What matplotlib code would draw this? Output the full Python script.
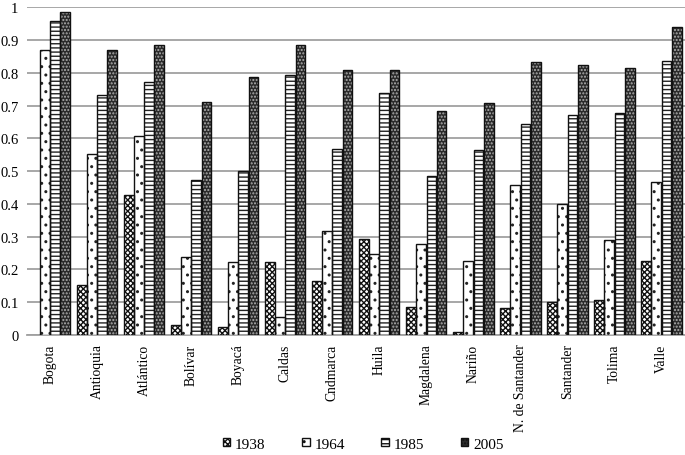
import numpy as np
import matplotlib
matplotlib.use("Agg")
import matplotlib.pyplot as plt
from matplotlib.patches import Patch

categories = ["Bogota", "Antioquia", "Atlántico", "Bolívar", "Boyacá", "Caldas", "Cndmarca",
              "Huila", "Magdalena", "Nariño", "N. de Santander", "Santander", "Tolima", "Valle"]
v1938 = [np.nan, 0.152, 0.427, 0.030, 0.026, 0.224, 0.164, 0.294, 0.087, 0.009, 0.084, 0.100, 0.106, 0.226]
v1964 = [0.868, 0.553, 0.608, 0.237, 0.222, 0.055, 0.317, 0.248, 0.277, 0.225, 0.457, 0.399, 0.289, 0.468]
v1985 = [0.958, 0.731, 0.772, 0.474, 0.500, 0.792, 0.567, 0.738, 0.486, 0.565, 0.643, 0.672, 0.676, 0.835]
v2005 = [0.985, 0.868, 0.886, 0.710, 0.786, 0.886, 0.810, 0.808, 0.683, 0.708, 0.833, 0.825, 0.815, 0.940]
series_labels = ["1938", "1964", "1985", "2005"]
yticks = [0, 0.1, 0.2, 0.3, 0.4, 0.5, 0.6, 0.7, 0.8, 0.9, 1]
ytick_labels = ["0", "0.1", "0.2", "0.3", "0.4", "0.5", "0.6", "0.7", "0.8", "0.9", "1"]

plt.rcParams['font.family'] = ['Liberation Serif', 'DejaVu Serif']
plt.rcParams['hatch.linewidth'] = 1.0

styles = [
    dict(face="white", hatch="xxxxxx", hcol="#111111"),
    dict(face="white", hatch="..", hcol="#222222"),
    dict(face="white", hatch="----", hcol="#222222"),
    dict(face="#2a2a2a", hatch=".....", hcol="#b0b0b0"),
]

fig = plt.figure(figsize=(6.85, 4.56), dpi=100)
ax = fig.add_axes([0.039, 0.263, 0.961, 0.719])

x = np.arange(len(categories))
w = 0.21
data = [v1938, v1964, v1985, v2005]
for i, (vals, st) in enumerate(zip(data, styles)):
    pos = x + (i - 1.5) * 0.215
    ax.bar(pos, vals, width=w, color=st["face"], hatch=st["hatch"],
           edgecolor=st["hcol"], linewidth=0, zorder=3)
    ax.bar(pos, vals, width=w, facecolor="none", edgecolor="#111111",
           linewidth=1.0, zorder=4)

ax.set_xlim(-0.5, len(categories) - 0.5)
ax.set_ylim(0, 1)
ax.set_yticks(yticks)
ax.set_yticklabels(ytick_labels, fontsize=10.5)
ax.set_xticks(x)
ax.set_xticklabels(categories, rotation=90, fontsize=9.8)
ax.tick_params(axis='both', length=0, pad=6)
ax.tick_params(axis='x', pad=6)
ax.yaxis.grid(True, color="#a0a0a0", linewidth=1.3, zorder=0)
ax.set_axisbelow(True)
for s in ["top", "right", "left"]:
    ax.spines[s].set_visible(False)
ax.spines["bottom"].set_color("#a0a0a0")
ax.spines["bottom"].set_linewidth(1.3)

handles = [Patch(facecolor=st["face"], hatch=st["hatch"], edgecolor="#111111", linewidth=1.0)
           for st in styles]
leg = fig.legend(handles, series_labels, loc="center", bbox_to_anchor=(0.53, 0.024), ncol=4,
                 frameon=False, fontsize=11, handlelength=0.5, handleheight=0.5,
                 handletextpad=0.3, columnspacing=2.4)

fig.savefig("out.png", dpi=100)
